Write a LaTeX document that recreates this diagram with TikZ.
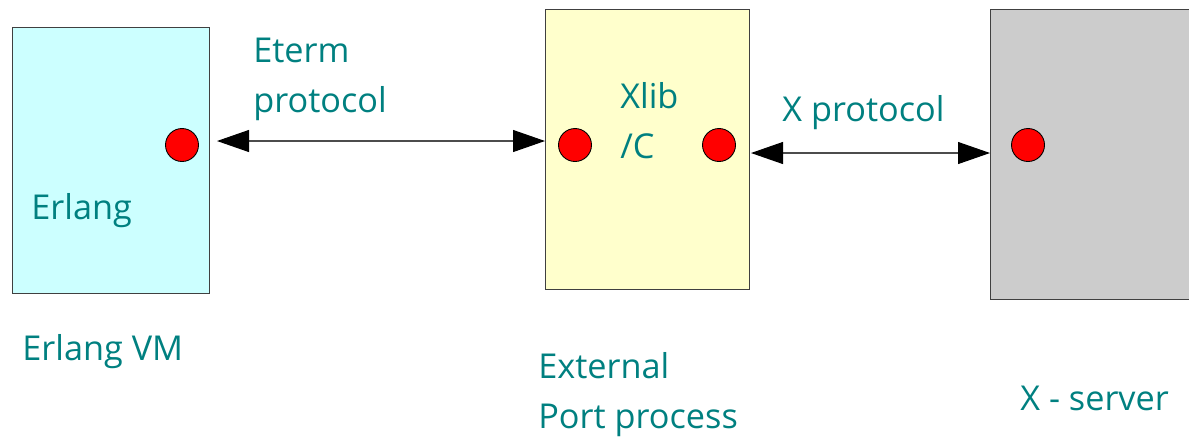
\documentclass[tikz,border=0pt]{standalone}
\usepackage{fontspec}
\setmainfont{Open Sans}
\usepackage{tikz}
\usetikzlibrary{arrows.meta,positioning,calc}
\usepackage{xcolor}
\definecolor{erlfill}{HTML}{CCFFFF}
\definecolor{portfill}{HTML}{FFFFCC}
\definecolor{xfill}{HTML}{CCCCCC}
\definecolor{txtcol}{HTML}{008080}
\definecolor{edgecol}{HTML}{404040}

\begin{document}
\begin{tikzpicture}[
    x=0.02cm, y=-0.02cm,
    font=\fontsize{19.5}{28.4}\selectfont,
    box/.style={draw=edgecol, line width=0.6pt, anchor=north west, inner sep=0pt},
    dot/.style={circle, draw=black, fill=red, line width=0.5pt, minimum size=0.66cm, inner sep=0pt},
    lbl/.style={text=txtcol, anchor=base west, inner sep=0pt, align=left},
    arr/.style={{Triangle[length=0.64cm, width=0.44cm, color=black]}-{Triangle[length=0.64cm, width=0.44cm, color=black]}, draw=black!70, line width=0.6pt}
  ]
    \clip (0,0) rectangle (1189,441);
    % boxes
    \node[box, fill=erlfill, minimum width=3.94cm, minimum height=5.32cm] (erlvm) at (12,27) {};
    \node[box, fill=portfill, minimum width=4.08cm, minimum height=5.6cm] (port) at (545,9) {};
    \node[box, fill=xfill, minimum width=4.6cm, minimum height=5.8cm] (xsrv) at (990,9) {};
    % ports
    \node[dot] (erlport) at (182,145) {};
    \node[dot] (xlibin) at (575,145) {};
    \node[dot] (xlibout) at (719,145) {};
    \node[dot] (xsrvport) at (1028,145) {};
    % texts (base = last line)
    \node[lbl] (erltxt) at (31,219) {Erlang};
    \node[lbl] (erlvmtxt) at (22,360) {Erlang VM};
    \node[lbl] (etermtxt) at (253,112) {Eterm\\protocol};
    \node[lbl] (xlibtxt) at (620,158) {Xlib\\/C};
    \node[lbl] (xprottxt) at (782,121) {X protocol};
    \node[lbl] (porttxt) at (538,428) {External\\Port process};
    \node[lbl] (xsrvtxt) at (1020,410) {X - server};
    % links
    \draw[arr] ($(erlvm.east |- 0,141)+(7,0)$) -- (port.west |- 0,141);
    \draw[arr] ($(port.east |- 0,153)+(1,0)$) -- (xsrv.west |- 0,153);
\end{tikzpicture}
\end{document}
